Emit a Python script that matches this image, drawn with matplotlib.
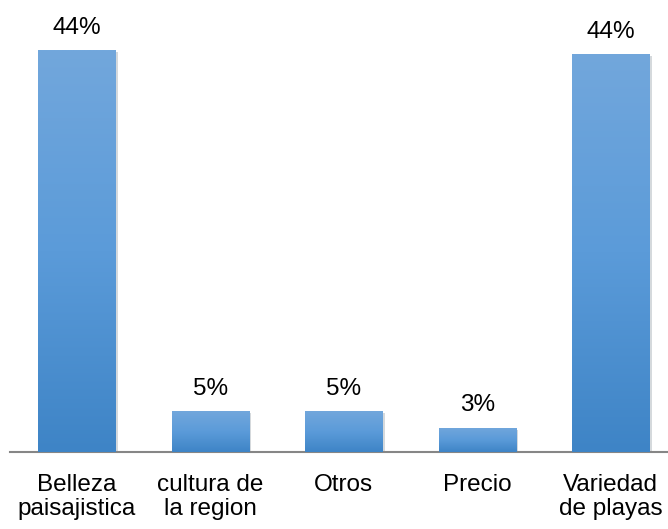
import matplotlib.pyplot as plt
import matplotlib.patheffects as pe
import numpy as np
from matplotlib.colors import LinearSegmentedColormap

plt.rcParams['font.family'] = ['Liberation Sans', 'DejaVu Sans']

categories = ["Belleza\npaisajistica", "cultura de\nla region", "Otros", "Precio", "Variedad\nde playas"]
values = [44.3, 4.5, 4.5, 2.7, 43.9]
labels = ["44%", "5%", "5%", "3%", "44%"]

fig = plt.figure(figsize=(6.68, 5.29), dpi=100)
ax = fig.add_axes([10 / 668, 77 / 529, 667.5 / 668, 452 / 529])

x = np.arange(len(categories))
bars = ax.bar(x, values, width=0.58, color="#5b9bd5", zorder=2,
              path_effects=[pe.SimplePatchShadow(offset=(1.5, -1.5), alpha=0.18), pe.Normal()])

# gradient fill clipped to each bar
cmap = LinearSegmentedColormap.from_list("blues", ["#3e84c6", "#5b9bd9", "#72a7dc"])
grad = np.linspace(0, 1, 256).reshape(-1, 1)
for b in bars:
    x0, y0, w, h = b.get_x(), b.get_y(), b.get_width(), b.get_height()
    im = ax.imshow(grad, extent=[x0, x0 + w, y0, y0 + h], origin="lower",
                   cmap=cmap, aspect="auto", zorder=3)
    im.set_clip_path(b)

for b, lab in zip(bars, labels):
    ax.annotate(lab, (b.get_x() + b.get_width() / 2, b.get_height()),
                xytext=(0, 8), textcoords="offset points",
                ha="center", va="bottom", fontsize=17.5, color="#000000")

ax.set_xlim(-0.5, 4.5)
ax.set_ylim(0, 452 / 9.07)
ax.set_xticks(x)
ax.set_xticklabels(categories, fontsize=17.5, linespacing=1.12)
ax.tick_params(axis="x", length=0, pad=16)
ax.set_yticks([])
for s in ["top", "right", "left"]:
    ax.spines[s].set_visible(False)
ax.spines["bottom"].set_color("#868686")
ax.spines["bottom"].set_linewidth(1.5)

fig.savefig("out.png", dpi=100)
